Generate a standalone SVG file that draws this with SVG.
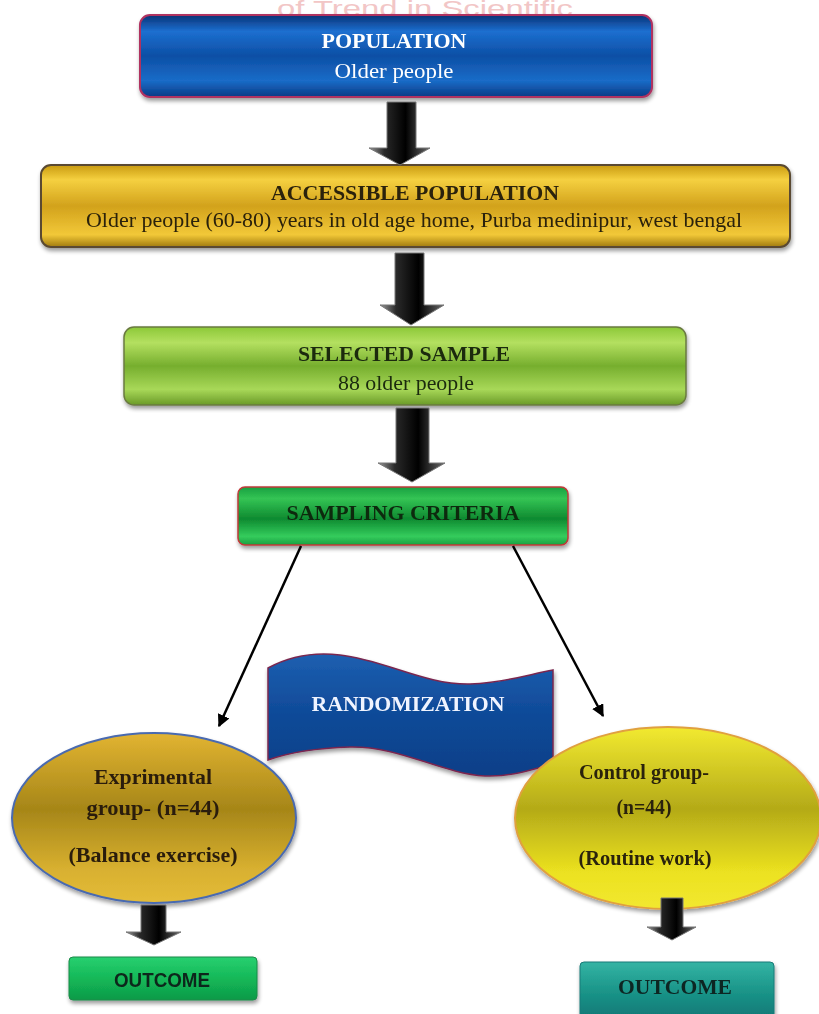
<svg xmlns="http://www.w3.org/2000/svg" width="819" height="1014" viewBox="0 0 819 1014">
<defs>
<style>
.ser{font-family:"Liberation Serif","Times New Roman",serif;font-weight:bold;}
.reg{font-family:"Liberation Serif","Times New Roman",serif;}
.sans{font-family:"Liberation Sans",Arial,sans-serif;font-weight:bold;}
.conn{stroke:#000;stroke-width:2.5;fill:none;}
</style>
<linearGradient id="gBlue" x1="0" y1="0" x2="0" y2="1">
<stop offset="0" stop-color="#0a3275"/><stop offset="0.2" stop-color="#1c6fd0"/><stop offset="0.5" stop-color="#0d4fa5"/><stop offset="0.8" stop-color="#1a6cc8"/><stop offset="1" stop-color="#0a3a85"/>
</linearGradient>
<linearGradient id="gGold" x1="0" y1="0" x2="0" y2="1">
<stop offset="0" stop-color="#c99a10"/><stop offset="0.18" stop-color="#f5d040"/><stop offset="0.5" stop-color="#d2a21c"/><stop offset="0.85" stop-color="#f2c838"/><stop offset="1" stop-color="#a07a10"/>
</linearGradient>
<linearGradient id="gLime" x1="0" y1="0" x2="0" y2="1">
<stop offset="0" stop-color="#8cc838"/><stop offset="0.2" stop-color="#b4e060"/><stop offset="0.5" stop-color="#76ae2e"/><stop offset="0.8" stop-color="#a8d858"/><stop offset="1" stop-color="#6a9a28"/>
</linearGradient>
<linearGradient id="gGreen" x1="0" y1="0" x2="0" y2="1">
<stop offset="0" stop-color="#18a040"/><stop offset="0.2" stop-color="#34c454"/><stop offset="0.55" stop-color="#0e8a30"/><stop offset="0.85" stop-color="#34cc5c"/><stop offset="1" stop-color="#18a040"/>
</linearGradient>
<linearGradient id="gWave" x1="0" y1="0" x2="0" y2="1">
<stop offset="0" stop-color="#1d5fb0"/><stop offset="0.5" stop-color="#0f4a98"/><stop offset="1" stop-color="#0c3f88"/>
</linearGradient>
<linearGradient id="gEllL" x1="0" y1="0" x2="0" y2="1">
<stop offset="0" stop-color="#e2b432"/><stop offset="0.45" stop-color="#a68618"/><stop offset="0.8" stop-color="#d8b030"/><stop offset="1" stop-color="#e4bc38"/>
</linearGradient>
<linearGradient id="gEllR" x1="0" y1="0" x2="0" y2="1">
<stop offset="0" stop-color="#f2ea30"/><stop offset="0.45" stop-color="#b4aa18"/><stop offset="0.8" stop-color="#ece220"/><stop offset="1" stop-color="#f2e830"/>
</linearGradient>
<linearGradient id="gOutL" x1="0" y1="0" x2="0" y2="1">
<stop offset="0" stop-color="#28d070"/><stop offset="0.5" stop-color="#14b858"/><stop offset="1" stop-color="#0e9a48"/>
</linearGradient>
<linearGradient id="gOutR" x1="0" y1="0" x2="0" y2="1">
<stop offset="0" stop-color="#34b4a4"/><stop offset="0.5" stop-color="#1a9488"/><stop offset="1" stop-color="#0e7474"/>
</linearGradient>
<linearGradient id="gArrow" x1="0" y1="0" x2="1" y2="0">
<stop offset="0" stop-color="#9a9a9a"/><stop offset="0.25" stop-color="#2a2a2a"/><stop offset="0.6" stop-color="#000"/><stop offset="1" stop-color="#6a6a6a"/>
</linearGradient>
<filter id="sh" x="-10%" y="-20%" width="120%" height="150%">
<feGaussianBlur in="SourceAlpha" stdDeviation="2"/><feOffset dx="1" dy="3"/><feComponentTransfer><feFuncA type="linear" slope="0.4"/></feComponentTransfer>
<feMerge><feMergeNode/><feMergeNode in="SourceGraphic"/></feMerge>
</filter>
<marker id="ah" viewBox="0 0 10 10" refX="9" refY="5" markerWidth="5" markerHeight="5" orient="auto" markerUnits="strokeWidth">
<path d="M0,0 L10,5 L0,10 Z" fill="#000"/>
</marker>
</defs>
<rect width="819" height="1014" fill="#fff"/>
<text x="277" y="16" class="sans" style="font-weight:normal" font-size="22" fill="#f2c6c6" textLength="296" lengthAdjust="spacingAndGlyphs">of Trend in Scientific</text>

<g id="population" filter="url(#sh)">
<rect x="140" y="15" width="512" height="82" rx="10" fill="url(#gBlue)" stroke="#b03060" stroke-width="2"/>
<text x="394" y="48" class="ser" font-size="22" fill="#fff" text-anchor="middle" textLength="145" lengthAdjust="spacingAndGlyphs">POPULATION</text>
<text x="394" y="78" class="reg" font-size="22" fill="#fff" text-anchor="middle" textLength="119" lengthAdjust="spacingAndGlyphs">Older  people</text>
</g>

<g id="accessible" filter="url(#sh)">
<rect x="41" y="165" width="749" height="82" rx="10" fill="url(#gGold)" stroke="#5a4a30" stroke-width="2"/>
<text x="415" y="200" class="ser" font-size="22" fill="#2a2008" text-anchor="middle" textLength="288" lengthAdjust="spacingAndGlyphs">ACCESSIBLE POPULATION</text>
<text x="414" y="227" class="reg" font-size="22" fill="#2a2008" text-anchor="middle" textLength="656" lengthAdjust="spacingAndGlyphs">Older people (60-80) years in old age home, Purba medinipur, west bengal</text>
</g>

<g id="selected" filter="url(#sh)">
<rect x="124" y="327" width="562" height="78" rx="10" fill="url(#gLime)" stroke="#6a7a40" stroke-width="1.5"/>
<text x="404" y="361" class="ser" font-size="22" fill="#1a2a10" text-anchor="middle" textLength="212" lengthAdjust="spacingAndGlyphs">SELECTED SAMPLE</text>
<text x="406" y="390" class="reg" font-size="22" fill="#1a2a10" text-anchor="middle" textLength="136" lengthAdjust="spacingAndGlyphs">88 older people</text>
</g>

<g id="criteria" filter="url(#sh)">
<rect x="238" y="487" width="330" height="58" rx="7" fill="url(#gGreen)" stroke="#c03838" stroke-width="1.5"/>
<text x="403" y="520" class="ser" font-size="21" fill="#0e2a10" text-anchor="middle" textLength="233" lengthAdjust="spacingAndGlyphs">SAMPLING CRITERIA</text>
</g>

<g id="randomization" filter="url(#sh)">
<path d="M268,668 C290,656 315,652 340,655 C385,660 425,685 470,684 C505,683 530,674 553,670 L553,764 C530,770 510,777 485,776 C440,773 400,746 350,747 C320,748 290,752 268,760 Z" fill="url(#gWave)" stroke="#7a2850" stroke-width="1.5"/>
<text x="408" y="711" class="ser" font-size="22" fill="#f0f4ff" text-anchor="middle" textLength="193" lengthAdjust="spacingAndGlyphs">RANDOMIZATION</text>
</g>

<g id="experimental" filter="url(#sh)">
<ellipse cx="154" cy="818" rx="142" ry="85" fill="url(#gEllL)" stroke="#4a6ab0" stroke-width="2"/>
<text x="153" y="784" class="ser" font-size="21" fill="#2a1e08" text-anchor="middle" textLength="118" lengthAdjust="spacingAndGlyphs">Exprimental</text>
<text x="153" y="815" class="ser" font-size="21" fill="#2a1e08" text-anchor="middle" textLength="133" lengthAdjust="spacingAndGlyphs">group- (n=44)</text>
<text x="153" y="862" class="ser" font-size="21" fill="#2a1e08" text-anchor="middle" textLength="169" lengthAdjust="spacingAndGlyphs">(Balance exercise)</text>
</g>

<g id="control" filter="url(#sh)">
<ellipse cx="668" cy="818" rx="153" ry="91" fill="url(#gEllR)" stroke="#e0a040" stroke-width="2"/>
<text x="644" y="779" class="ser" font-size="21" fill="#2a2408" text-anchor="middle" textLength="130" lengthAdjust="spacingAndGlyphs">Control group-</text>
<text x="644" y="814" class="ser" font-size="21" fill="#2a2408" text-anchor="middle" textLength="55" lengthAdjust="spacingAndGlyphs">(n=44)</text>
<text x="645" y="865" class="ser" font-size="21" fill="#2a2408" text-anchor="middle" textLength="133" lengthAdjust="spacingAndGlyphs">(Routine work)</text>
</g>

<g id="outcome-left" filter="url(#sh)">
<rect x="69" y="957" width="188" height="43" rx="4" fill="url(#gOutL)" stroke="#1a8a48" stroke-width="1"/>
<text x="162" y="987" class="sans" font-size="20" fill="#10281a" text-anchor="middle" textLength="96" lengthAdjust="spacingAndGlyphs">OUTCOME</text>
</g>

<g id="outcome-right" filter="url(#sh)">
<rect x="580" y="962" width="194" height="60" rx="4" fill="url(#gOutR)" stroke="#1a7a78" stroke-width="1"/>
<text x="675" y="994" class="ser" font-size="22" fill="#0e2624" text-anchor="middle" textLength="114" lengthAdjust="spacingAndGlyphs">OUTCOME</text>
</g>

<g id="connectors">
<path d="M387,102 L416,102 L416,148 L430,148 L400,165 L369,148 L387,148 Z" fill="url(#gArrow)" stroke="#777" stroke-width="1"/>
<path d="M395,253 L424,253 L424,305 L444,305 L411,325 L380,305 L395,305 Z" fill="url(#gArrow)" stroke="#777" stroke-width="1"/>
<path d="M396,408 L429,408 L429,463 L445,463 L412,482 L378,463 L396,463 Z" fill="url(#gArrow)" stroke="#777" stroke-width="1"/>
<path d="M141,905 L166,905 L166,932 L181,932 L154,945 L126,932 L141,932 Z" fill="url(#gArrow)" stroke="#777" stroke-width="1"/>
<path d="M661,898 L683,898 L683,927 L696,927 L672,940 L647,927 L661,927 Z" fill="url(#gArrow)" stroke="#777" stroke-width="1"/>
<line x1="301" y1="546" x2="219" y2="726" class="conn" marker-end="url(#ah)"/>
<line x1="513" y1="546" x2="603" y2="716" class="conn" marker-end="url(#ah)"/>
</g>
</svg>
